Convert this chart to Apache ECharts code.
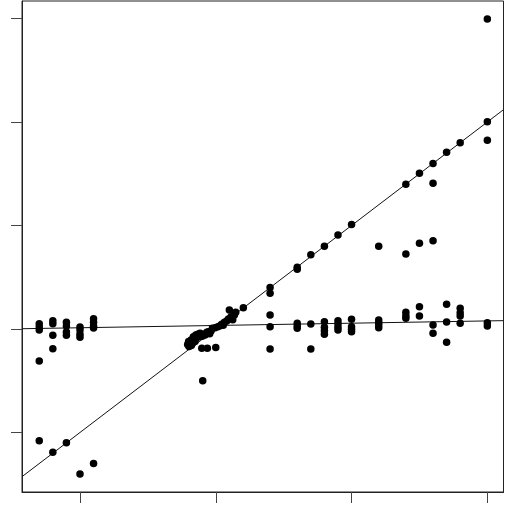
<!DOCTYPE html>
<html>
<head>
<meta charset="utf-8">
<script src="https://cdn.jsdelivr.net/npm/echarts@6/dist/echarts.min.js"></script>
<style>
  html, body { margin: 0; padding: 0; background: #fff; }
  #chart { width: 507px; height: 519px; }
</style>
</head>
<body>
<div id="chart"></div>
<script>
// tick positions (no labels visible in the picture)
var xTicks = [0, 10, 20, 30];
var yTicks = [-1, 0, 1, 2, 3];

// observed points [x, y]
var leftPts = [
  [-3, 0.05], [-3, 0.02], [-3, -0.01], [-3, -0.31], [-3, -1.08],
  [-2, 0.08], [-2, 0.05], [-2, -0.06], [-2, -0.19], [-2, -1.19],
  [-1, 0.065], [-1, 0.03], [-1, -0.03], [-1, -0.06], [-1, -1.10],
  [0, 0.02], [0, -0.01], [0, -0.05], [0, -0.08], [0, -1.40],
  [1, 0.10], [1, 0.065], [1, 0.03], [1, 0.01], [1, -1.30]
];
var midPts = [
  [7.93, -0.15], [8.03, -0.17], [8.1, -0.14], [8.18, -0.106], [8.28, -0.14],
  [8.35, -0.074], [8.47, -0.12], [8.53, -0.058], [8.67, -0.051], [8.72, -0.074],
  [8.84, -0.042], [9.09, -0.051], [9.21, -0.058], [9.34, -0.032], [9.46, -0.026],
  [9.65, -0.019], [9.75, 0.007], [9.95, 0.013], [10.15, 0.022], [10.32, 0.032],
  [10.44, 0.045], [10.64, 0.065], [10.81, 0.077], [10.93, 0.097], [11.13, 0.119],
  [11.37, 0.135], [11.47, 0.161], [11.0, 0.184], [12.03, 0.206],
  [8.0, -0.12], [8.2, -0.16], [8.4, -0.095], [8.6, -0.085], [9.0, -0.07],
  [9.55, -0.045], [10.55, 0.035], [11.25, 0.09],
  [8.97, -0.187], [9.38, -0.187], [10.0, -0.18], [9.04, -0.50]
];
var rightPts = [
  [14, 0.40], [14, 0.345], [14, 0.135], [14, 0.022], [14, -0.193],
  [16, 0.596], [16, 0.577], [16, 0.055], [16, 0.029], [16, 0.007],
  [17, 0.718], [17, 0.048], [17, -0.193],
  [18, 0.80], [18, 0.07], [18, 0.016], [18, -0.016], [18, -0.05],
  [19, 0.908], [19, 0.08], [19, 0.048], [19, 0.016], [19, -0.01],
  [20, 1.01], [20, 0.094], [20, 0.022], [20, -0.003], [20, -0.026],
  [22, 0.80], [22, 0.087], [22, 0.061], [22, 0.039], [22, 0.013],
  [24, 1.398], [24, 0.725], [24, 0.161], [24, 0.129], [24, 0.103],
  [25, 1.504], [25, 0.828], [25, 0.215], [25, 0.126],
  [26, 1.60], [26, 1.408], [26, 0.853], [26, 0.039], [26, -0.042],
  [27, 1.707], [27, 0.239], [27, 0.068], [27, -0.128],
  [28, 1.80], [28, 0.20], [28, 0.157], [28, 0.126], [28, 0.055],
  [30, 2.995], [30, 2.003], [30, 1.823], [30, 0.061], [30, 0.029]
];

// fitted lines: [intercept, slope]
var fitDiag = [-1.0, 0.1];
var fitFlat = [0.012, 0.0022];

var xMin = -4.27, xMax = 31.19;
var yMin = -1.575, yMax = 3.169;

function fitLine(f) {
  return [[xMin, f[0] + f[1] * xMin], [xMax, f[0] + f[1] * xMax]];
}

var myChart = echarts.init(document.getElementById('chart'));

var option = {
  animation: false,
  grid: {
    left: 22, right: 3.5, top: 1, bottom: 27,
    show: true, borderColor: '#222', borderWidth: 1
  },
  xAxis: {
    type: 'value', min: xMin, max: xMax,
    splitLine: { show: false },
    axisLine: { show: true, onZero: false, lineStyle: { color: '#222', width: 1 } },
    axisTick: { show: true, customValues: xTicks, length: 11, inside: false,
      lineStyle: { color: '#444', width: 1 } },
    axisLabel: { show: false }
  },
  yAxis: {
    type: 'value', min: yMin, max: yMax,
    splitLine: { show: false },
    axisLine: { show: true, onZero: false, lineStyle: { color: '#222', width: 1 } },
    axisTick: { show: true, customValues: yTicks, length: 11, inside: false,
      lineStyle: { color: '#444', width: 1 } },
    axisLabel: { show: false }
  },
  series: [
    {
      type: 'line', data: fitLine(fitDiag), symbol: 'none', silent: true,
      lineStyle: { color: '#111', width: 1 }, z: 1
    },
    {
      type: 'line', data: fitLine(fitFlat), symbol: 'none', silent: true,
      lineStyle: { color: '#111', width: 1 }, z: 1
    },
    {
      type: 'scatter', data: leftPts.concat(midPts, rightPts),
      symbolSize: 7.5, itemStyle: { color: '#000', opacity: 1 }, z: 2
    }
  ]
};
myChart.setOption(option);
</script>
</body>
</html>
